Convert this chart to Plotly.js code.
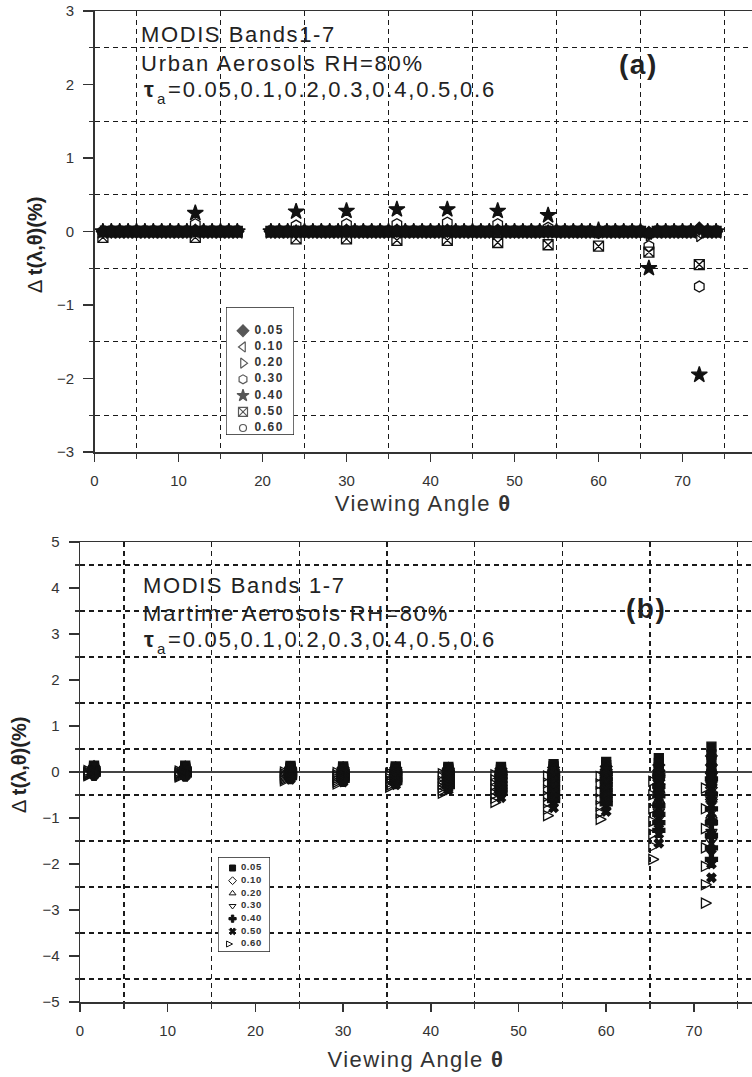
<!DOCTYPE html>
<html>
<head>
<meta charset="utf-8">
<script src="https://cdn.plot.ly/plotly-3.0.1.min.js"></script>
<style>
html,body{margin:0;padding:0;background:#fff;}
#chart{width:752px;height:1077px;}
</style>
</head>
<body>
<div id="chart"></div>
<script>
// ---------------- DATA ----------------
const tauLabels = ['0.05', '0.10', '0.20', '0.30', '0.40', '0.50', '0.60'];

// Panel (a): Urban aerosols, viewing angles (deg)
const anglesA = [1,2,3,4,5,6,7,8,9,10,11,12,13,14,15,16,17,
  21,22,23,24,25,26,27,28,29,30,31,32,33,34,35,36,37,38,39,40,41,42,43,44,45,46,47,48,49,50,
  51,52,53,54,55,56,57,58,59,60,61,62,63,64,65,66,67,68,69,70,71,72,73,74];

const urban005 = [0,0,0,0,0,0,0,0,0,0, 0,0.01,0,0,0,0,0,0,0,0, 0,0,0,0,0,0,0.01,0,0,0,
  0,0,0.01,0,0,0,0,0,0.01,0, 0,0,0,0,0.01,0,0,0,0,0, 0,0,0,0,0,0,0,0,0,0, 0,0,-0.02,0,0,0,0,0,0.04,0, 0];
const urban010 = [0,0,0,0,0,0,0,0,0,0, 0,0,0,0,0,0,0,0,0,0, 0,0,0,0,0,0,0,0,0,0,
  0,0,0,0,0,0,0,0,0,0, 0,0,0,0,0,0,0,0,0,0, 0,0,0,0,0,0,0,0,0,0, 0,0,-0.03,0,0,0,0,0,-0.02,0, 0];
const urban020 = [0,0,0,0,0,0,0,0,0,0, 0,0,0,0,0,0,0,0,0,0, 0,0,0,0,0,0,0,0,0,0,
  0,0,0,0,0,0,0,0,0,0, 0,0,0,0,0,0,0,0,0,0, 0,0,0,0,0,0,-0.01,0,0,0, 0,0,-0.05,0,0,0,0,0,-0.06,0, 0];
const urban030 = [0,0,0,0,0,0,0,0,0,0, 0,0.10,0,0,0,0,0,0,0,0, 0.08,0,0,0,0,0,0.10,0,0,0,
  0,0,0.10,0,0,0,0,0,0.12,0, 0,0,0,0,0.10,0,0,0,0,0, 0.05,0,0,0,0,0,-0.02,0,0,0, 0,0,-0.20,0,0,0,0,0,-0.75,0, 0];
const urban040 = [0,0,0,0,0,0,0,0,0,0, 0,0.25,0,0,0,0,0,0,0,0, 0.27,0,0,0,0,0,0.28,0,0,0,
  0,0,0.30,0,0,0,0,0,0.30,0, 0,0,0,0,0.28,0,0,0,0,0, 0.22,0,0,0,0,0,0.02,0,0,0, 0,0,-0.50,0,0,0,0,0,-1.95,0, 0];
const urban050 = [-0.08,0,0,0,0,0,0,0,0,0, 0,-0.08,0,0,0,0,0,0,0,0, -0.10,0,0,0,0,0,-0.10,0,0,0,
  0,0,-0.12,0,0,0,0,0,-0.12,0, 0,0,0,0,-0.15,0,0,0,0,0, -0.18,0,0,0,0,0,-0.20,0,0,0, 0,0,-0.28,0,0,0,0,0,-0.45,0, 0];
const urban060 = [0,0,0,0,0,0,0,0,0,0, 0,0,0,0,0,0,0,0,0,0, 0,0,0,0,0,0,0,0,0,0,
  0,0,0,0,0,0,0,0,0,0, 0,0,0,0,0,0,0,0,0,0, 0,0,0,0,0,0,0,0,0,0, 0,0,0,0,0,0,0,0,0.04,0, 0];

// Panel (b): Maritime aerosols, viewing angles (deg); 7 MODIS bands per angle
const anglesB = [1.6, 12, 24, 30, 36, 42, 48, 54, 60, 66, 72];
const bands = ['B1', 'B2', 'B3', 'B4', 'B5', 'B6', 'B7'];

const maritime005 = [
  0.14,0.10,0.08,0.06,0.05,0.04,0.03,
  0.14,0.10,0.08,0.06,0.05,0.04,0.03,
  0.13,0.10,0.08,0.06,0.04,0.03,0.02,
  0.12,0.09,0.07,0.05,0.03,0.02,0.01,
  0.12,0.09,0.06,0.04,0.02,0.01,0.00,
  0.11,0.08,0.05,0.03,0.01,-0.01,-0.02,
  0.11,0.07,0.04,0.01,-0.01,-0.03,-0.05,
  0.17,0.12,0.07,0.03,0.00,-0.03,-0.06,
  0.22,0.15,0.09,0.04,0.00,-0.04,-0.07,
  0.30,0.20,0.10,0.02,-0.05,-0.11,-0.17,
  0.55,0.38,0.22,0.08,-0.04,-0.15,-0.25];
const maritime010 = [
  0.12,0.09,0.07,0.05,0.03,0.02,0.01,
  0.11,0.08,0.06,0.04,0.03,0.02,0.00,
  0.10,0.07,0.05,0.03,0.01,0.00,-0.02,
  0.09,0.06,0.04,0.02,0.00,-0.02,-0.03,
  0.09,0.06,0.03,0.01,-0.01,-0.03,-0.05,
  0.08,0.04,0.01,-0.02,-0.05,-0.07,-0.09,
  0.07,0.02,-0.02,-0.06,-0.09,-0.12,-0.15,
  0.10,0.04,-0.02,-0.07,-0.12,-0.16,-0.20,
  0.12,0.05,-0.02,-0.08,-0.13,-0.18,-0.22,
  0.15,0.03,-0.08,-0.18,-0.27,-0.36,-0.44,
  0.35,0.15,-0.03,-0.19,-0.34,-0.48,-0.60];
const maritime020 = [
  0.10,0.07,0.05,0.03,0.02,0.00,-0.01,
  0.09,0.06,0.04,0.02,0.01,-0.01,-0.02,
  0.07,0.04,0.02,0.00,-0.02,-0.04,-0.05,
  0.06,0.03,0.00,-0.02,-0.04,-0.06,-0.08,
  0.06,0.02,-0.01,-0.04,-0.06,-0.09,-0.11,
  0.05,0.00,-0.04,-0.08,-0.11,-0.14,-0.17,
  0.04,-0.02,-0.08,-0.13,-0.17,-0.21,-0.25,
  0.05,-0.03,-0.10,-0.17,-0.23,-0.29,-0.34,
  0.06,-0.03,-0.11,-0.19,-0.26,-0.32,-0.38,
  0.05,-0.10,-0.24,-0.37,-0.50,-0.62,-0.73,
  0.05,-0.18,-0.40,-0.60,-0.78,-0.95,-1.10];
const maritime030 = [
  0.08,0.05,0.03,0.01,0.00,-0.02,-0.03,
  0.07,0.04,0.02,0.00,-0.01,-0.03,-0.04,
  0.05,0.02,0.00,-0.03,-0.05,-0.07,-0.09,
  0.04,0.00,-0.03,-0.06,-0.08,-0.10,-0.13,
  0.03,-0.01,-0.05,-0.08,-0.11,-0.14,-0.17,
  0.02,-0.03,-0.08,-0.13,-0.17,-0.21,-0.25,
  0.01,-0.06,-0.13,-0.19,-0.25,-0.30,-0.35,
  0.01,-0.08,-0.17,-0.26,-0.34,-0.41,-0.48,
  0.01,-0.09,-0.19,-0.29,-0.38,-0.46,-0.53,
  -0.02,-0.20,-0.38,-0.55,-0.71,-0.86,-1.00,
  -0.05,-0.33,-0.60,-0.85,-1.08,-1.30,-1.50];
const maritime040 = [
  0.06,0.03,0.01,0.00,-0.02,-0.04,-0.05,
  0.05,0.02,0.00,-0.02,-0.04,-0.05,-0.07,
  0.03,0.00,-0.03,-0.05,-0.08,-0.10,-0.12,
  0.02,-0.02,-0.06,-0.09,-0.12,-0.15,-0.18,
  0.01,-0.04,-0.08,-0.12,-0.16,-0.19,-0.23,
  0.00,-0.06,-0.12,-0.18,-0.23,-0.28,-0.32,
  -0.02,-0.10,-0.18,-0.26,-0.33,-0.39,-0.45,
  -0.03,-0.14,-0.25,-0.35,-0.45,-0.54,-0.62,
  -0.03,-0.15,-0.27,-0.39,-0.50,-0.60,-0.69,
  -0.08,-0.30,-0.52,-0.73,-0.92,-1.10,-1.27,
  -0.15,-0.48,-0.80,-1.10,-1.38,-1.65,-1.90];
const maritime050 = [
  0.04,0.02,0.00,-0.02,-0.04,-0.05,-0.07,
  0.03,0.00,-0.02,-0.04,-0.06,-0.08,-0.09,
  0.01,-0.02,-0.05,-0.08,-0.11,-0.13,-0.16,
  0.00,-0.04,-0.08,-0.12,-0.15,-0.19,-0.22,
  -0.01,-0.06,-0.11,-0.16,-0.20,-0.24,-0.28,
  -0.02,-0.09,-0.16,-0.22,-0.28,-0.34,-0.39,
  -0.04,-0.14,-0.23,-0.32,-0.40,-0.48,-0.56,
  -0.06,-0.19,-0.32,-0.44,-0.56,-0.67,-0.78,
  -0.07,-0.21,-0.35,-0.49,-0.62,-0.74,-0.86,
  -0.14,-0.40,-0.66,-0.90,-1.13,-1.35,-1.55,
  -0.25,-0.63,-1.00,-1.35,-1.68,-2.00,-2.30];
const maritime060 = [
  0.03,0.00,-0.02,-0.04,-0.05,-0.07,-0.08,
  0.02,-0.01,-0.03,-0.05,-0.07,-0.09,-0.11,
  0.00,-0.04,-0.07,-0.10,-0.13,-0.16,-0.19,
  -0.01,-0.06,-0.10,-0.14,-0.18,-0.22,-0.26,
  -0.03,-0.08,-0.14,-0.19,-0.24,-0.29,-0.33,
  -0.04,-0.12,-0.20,-0.27,-0.34,-0.40,-0.46,
  -0.06,-0.17,-0.28,-0.38,-0.48,-0.57,-0.66,
  -0.09,-0.24,-0.39,-0.53,-0.67,-0.81,-0.95,
  -0.10,-0.26,-0.43,-0.59,-0.74,-0.89,-1.03,
  -0.20,-0.50,-0.80,-1.08,-1.35,-1.62,-1.90,
  -0.35,-0.80,-1.23,-1.65,-2.05,-2.45,-2.85];

// Texts
const textA = ['MODIS Bands1-7', 'Urban Aerosols RH=80%'];
const textB = ['MODIS Bands 1-7', 'Martime Aerosols RH=80%'];
const tauSymbol = 'τ';
const tauSub = 'a';
const tauList = '=0.05,0.1,0.2,0.3,0.4,0.5,0.6';
const panelTags = ['(a)', '(b)'];
const xTitleText = 'Viewing Angle <b>θ</b>';
const yTitleText = 'Δ <b>t(λ,θ)(%)</b>';

// ---------------- STYLE ----------------
const W = 752, H = 1077;
const fx = v => v / W;
const fy = v => 1 - v / H;
const FONT = '"Liberation Sans", Arial, Helvetica, sans-serif';
const INK = '#222';
const GRID = '#1a1a1a';
const DASH = '5px,4px';
// the source figure's lettering is slightly wide: emulate with letter spacing
const wide = (t, px) => '<span style="letter-spacing:' + px + 'px">' + t + '</span>';

const symbolsA = ['diamond', 'triangle-left-open', 'triangle-right-open', 'hexagon-open', 'star', 'square-x-open', 'circle-open'];
const sizesA = [10, 10, 10, 11, 12, 10, 7];
const symbolsB = ['square', 'diamond-open', 'triangle-up-open', 'triangle-down-open', 'cross', 'x', 'arrow-right-open'];
const sizesB = [9, 9, 10, 10, 10, 8, 10];

const urbanSeries = [urban005, urban010, urban020, urban030, urban040, urban050, urban060];
const maritimeSeries = [maritime005, maritime010, maritime020, maritime030, maritime040, maritime050, maritime060];

// ---------------- TRACES ----------------
const traces = [];
for (let k = urbanSeries.length - 1; k >= 0; k--) {
  traces.push({
    type: 'scatter', mode: 'markers', xaxis: 'x', yaxis: 'y',
    name: 'τa=' + tauLabels[k], x: anglesA, y: urbanSeries[k],
    marker: {symbol: symbolsA[k], size: sizesA[k], color: '#111', line: {width: 1.3, color: '#111'}},
    showlegend: false
  });
}
const xB = anglesB.flatMap(a => bands.map(() => a));
for (let k = 0; k < maritimeSeries.length; k++) {
  traces.push({
    type: 'scatter', mode: 'markers', xaxis: 'x2', yaxis: 'y2',
    name: 'τa=' + tauLabels[k], x: xB, y: maritimeSeries[k],
    marker: {symbol: symbolsB[k], size: sizesB[k], color: '#111', line: {width: 1.3, color: '#111'}},
    showlegend: false
  });
}
// in-plot legend boxes (drawn on helper axes with nothing shown)
const rows = tauLabels.map((_, i) => i + 1);
traces.push({type: 'scatter', mode: 'markers', xaxis: 'x3', yaxis: 'y3', x: rows.map(() => 0.25), y: rows,
  marker: {symbol: symbolsA, size: sizesA.map(s => Math.min(s, 9)), color: '#111', line: {width: 1.2, color: '#111'}},
  cliponaxis: false, hoverinfo: 'skip', showlegend: false});
traces.push({type: 'scatter', mode: 'text', xaxis: 'x3', yaxis: 'y3', x: rows.map(() => 0.42), y: rows,
  text: tauLabels.map(t => wide('<b>' + t + '</b>', 1.5)), textposition: 'middle right',
  textfont: {family: FONT, size: 12, color: '#333'}, cliponaxis: false, hoverinfo: 'skip', showlegend: false});
traces.push({type: 'scatter', mode: 'markers', xaxis: 'x4', yaxis: 'y4', x: rows.map(() => 0.28), y: rows,
  marker: {symbol: symbolsB, size: 6, color: '#111', line: {width: 1, color: '#111'}},
  cliponaxis: false, hoverinfo: 'skip', showlegend: false});
traces.push({type: 'scatter', mode: 'text', xaxis: 'x4', yaxis: 'y4', x: rows.map(() => 0.44), y: rows,
  text: tauLabels.map(t => wide('<b>' + t + '</b>', 0.6)), textposition: 'middle right',
  textfont: {family: FONT, size: 9.5, color: '#333'}, cliponaxis: false, hoverinfo: 'skip', showlegend: false});

// ---------------- LAYOUT ----------------
const tickFont = {family: FONT, size: 15, color: '#333'};
function xAxis(domainLeftPx, pxPerDeg, anchor, standoff) {
  return {
    domain: [fx(domainLeftPx), 1], range: [0, (W - domainLeftPx) / pxPerDeg], anchor: anchor,
    showline: true, mirror: true, linecolor: '#333', linewidth: 1.5,
    ticks: 'outside', ticklen: 8, tickwidth: 1.5, tickcolor: '#333',
    tick0: 0, dtick: 10, tickfont: tickFont, ticklabelstandoff: 6,
    showgrid: false, zeroline: false, fixedrange: true,
    title: {text: wide(xTitleText, 1.4), font: {family: FONT, size: 22, color: '#333'}, standoff: standoff},
    minor: {tick0: 5, dtick: 10, ticks: 'outside', ticklen: 5, tickwidth: 1.3, tickcolor: '#333',
      showgrid: true, gridcolor: GRID, gridwidth: 1.4, griddash: DASH}
  };
}
function yAxis(topPx, bottomPx, lo, hi, anchor, zero) {
  return {
    domain: [fy(bottomPx), fy(topPx)], range: [lo, hi], anchor: anchor,
    showline: true, linecolor: '#333', linewidth: 1.5,
    ticks: 'outside', ticklen: 10, tickwidth: 1.5, tickcolor: '#333',
    tick0: 0, dtick: 1, tickfont: tickFont, ticklabelstandoff: 6,
    showgrid: false, zeroline: zero, zerolinecolor: '#444', zerolinewidth: 1.5, fixedrange: true,
    minor: {tick0: 0.5, dtick: 1, ticks: 'outside', ticklen: 4, tickwidth: 1.3, tickcolor: '#333',
      showgrid: true, gridcolor: GRID, gridwidth: 1.4, griddash: DASH}
  };
}
const legA = {left: 226, right: 294, top: 307, bottom: 435, y0: -0.46, y1: 7.43};
const legB = {left: 218, right: 270, top: 857, bottom: 952, y0: 0.13, y1: 7.63};
function bare(dom, range, anchor) {
  return {domain: dom, range: range, anchor: anchor, fixedrange: true, showgrid: false, zeroline: false,
    showline: false, showticklabels: false, ticks: ''};
}

function ann(text, xpx, ypx, size, extra) {
  return Object.assign({text: text, x: fx(xpx), y: fy(ypx), xref: 'paper', yref: 'paper', showarrow: false,
    xanchor: 'left', yanchor: 'middle', font: {family: FONT, size: size, color: INK}}, extra || {});
}
// tau line: bold tau, lowered small "a", then the list
function tauLine(xpx, ypx) {
  return [
    ann('<b>' + tauSymbol + '</b>', xpx, ypx, 22),
    ann(tauSub, xpx + 13, ypx + 8, 15),
    ann(wide(tauList, 1.8), xpx + 24, ypx, 22)
  ];
}

const layout = {
  width: W, height: H, margin: {l: 0, r: 0, t: 0, b: 0},
  paper_bgcolor: '#fff', plot_bgcolor: 'rgba(0,0,0,0)', showlegend: false,
  font: {family: FONT, color: INK},
  xaxis: xAxis(94.5, 8.4, 'y', 8),
  yaxis: yAxis(11, 452, -3, 3, 'x', false),
  xaxis2: xAxis(80, 8.77, 'y2', 14),
  yaxis2: yAxis(542, 1002, -5, 5, 'x2', true),
  xaxis3: bare([fx(legA.left), fx(legA.right)], [0, 1], 'y3'),
  yaxis3: bare([fy(legA.bottom), fy(legA.top)], [legA.y1, legA.y0], 'x3'),
  xaxis4: bare([fx(legB.left), fx(legB.right)], [0, 1], 'y4'),
  yaxis4: bare([fy(legB.bottom), fy(legB.top)], [legB.y1, legB.y0], 'x4'),
  shapes: [
    {type: 'rect', xref: 'x3', yref: 'y3', x0: 0, x1: 1, y0: legA.y0, y1: legA.y1, layer: 'below',
      fillcolor: '#fff', line: {color: '#222', width: 1.3}},
    {type: 'rect', xref: 'x4', yref: 'y4', x0: 0, x1: 1, y0: legB.y0, y1: legB.y1, layer: 'below',
      fillcolor: '#fff', line: {color: '#222', width: 1.3}}
  ],
  annotations: [
    ann(wide(textA[0], 1.6), 139, 34, 22), ann(wide(textA[1], 1.8), 139, 63, 22),
    ...tauLine(142, 90),
    ann(wide('<b>' + panelTags[0] + '</b>', 1.5), 638, 64, 28, {xanchor: 'center'}),
    ann(wide(textB[0], 1.6), 141, 585, 22), ann(wide(textB[1], 1.8), 141, 613, 22),
    ...tauLine(142, 640),
    ann(wide('<b>' + panelTags[1] + '</b>', 1.5), 646, 608, 28, {xanchor: 'center'}),
    ann(yTitleText, 35, 245, 20, {xanchor: 'center', textangle: -90}),
    ann(yTitleText, 19, 765, 20, {xanchor: 'center', textangle: -90})
  ]
};

Plotly.newPlot('chart', traces, layout, {staticPlot: true, displayModeBar: false});
</script>
</body>
</html>
